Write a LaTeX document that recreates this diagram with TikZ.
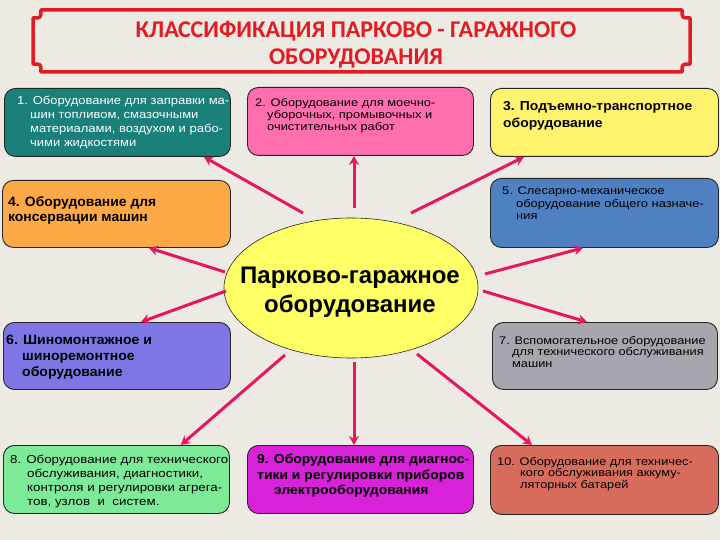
\documentclass[tikz,border=0pt]{standalone}
\usepackage{fontspec}
\setmainfont{Liberation Sans}
\newfontfamily\titlefont{Carlito}
\usetikzlibrary{shapes.geometric,arrows.meta,calc}
\definecolor{bgc}{HTML}{EDE9E3}
\definecolor{titlered}{HTML}{E31B23}
\definecolor{cteal}{HTML}{1A807A}
\definecolor{cpink}{HTML}{FF6FAE}
\definecolor{cyellow}{HTML}{FFF36E}
\definecolor{corange}{HTML}{FDA948}
\definecolor{cblue}{HTML}{4E80C2}
\definecolor{cell}{HTML}{FFFF66}
\definecolor{cpurple}{HTML}{7F76E6}
\definecolor{cgrey}{HTML}{A9A5AF}
\definecolor{cgreen}{HTML}{7DEA98}
\definecolor{cmag}{HTML}{D722D9}
\definecolor{csalmon}{HTML}{D86C5C}
\definecolor{arrc}{HTML}{E5175F}
\newcommand\bxfont[3]{\fontsize{#1}{#2}\selectfont\addfontfeature{FakeStretch=#3}}
\begin{document}
\begin{tikzpicture}[x=1pt,y=-1pt,
  box/.style={draw=black!85, line width=0.9pt, rounded corners=11pt, inner sep=0pt, anchor=north west},
  txt/.style={anchor=north west, align=left, inner sep=0pt},
  arr/.style={draw=arrc, line width=3pt, -{Stealth[length=9pt,width=10pt]}}]
\fill[bgc] (0,0) rectangle (720,540);
\useasboundingbox (0,0) rectangle (720,540);
% title frame
\draw[titlered, line width=3.5pt, line join=round]
  (41,10) -- (682,10) .. controls (682,18) .. (690,18) -- (690,64)
  .. controls (682,64) .. (682,72) -- (41,72) .. controls (41,64) .. (33,64)
  -- (33,18) .. controls (41,18) .. cycle;
\node[align=center, font=\titlefont\bfseries\fontsize{24}{27}\selectfont, text=titlered] (title) at (356,45)
  {КЛАССИФИКАЦИЯ ПАРКОВО - ГАРАЖНОГО\\ОБОРУДОВАНИЯ};
% boxes
\node[box, fill=cteal, minimum width=226, minimum height=68] (b1) at (4,88) {};
\node[box, fill=cpink, minimum width=226, minimum height=68] (b2) at (247,87) {};
\node[box, fill=cyellow, minimum width=228, minimum height=68] (b3) at (490,88) {};
\node[box, fill=corange, minimum width=228, minimum height=67] (b4) at (2,180) {};
\node[box, fill=cblue, minimum width=228, minimum height=69] (b5) at (490,178) {};
\node[box, fill=cpurple, minimum width=227, minimum height=67] (b6) at (3,322) {};
\node[box, fill=cgrey, minimum width=225, minimum height=67] (b7) at (492,322) {};
\node[box, fill=cgreen, minimum width=226, minimum height=68] (b8) at (3,445) {};
\node[box, fill=cmag, minimum width=226, minimum height=68] (b9) at (247,445) {};
\node[box, fill=csalmon, minimum width=228, minimum height=69] (b10) at (490,445) {};
% ellipse
\node[ellipse, draw=black!85, line width=0.6pt, fill=cell, minimum width=254, minimum height=140, inner sep=0pt] (ell) at (351,288) {};
\node[align=center, font=\bfseries\fontsize{24}{29}\selectfont] (elltxt) at (350,292) {Парково-гаражное\\оборудование};
% texts
\node[txt, text=white, font=\bxfont{11.5}{14}{1.13}] (t1) at (17,96)
  {1. Оборудование для заправки ма-\\\hspace*{13pt}шин топливом, смазочными\\\hspace*{13pt}материалами, воздухом и рабо-\\\hspace*{13pt}чими жидкостями};
\node[txt, font=\bxfont{11}{12}{1.17}] (t2) at (255,98)
  {2. Оборудование для моечно-\\\hspace*{12pt}уборочных, промывочных и\\\hspace*{12pt}очистительных работ};
\node[txt, font=\bfseries\bxfont{13}{17.5}{1.07}] (t3) at (503,101)
  {3. Подъемно-транспортное\\оборудование};
\node[txt, font=\bfseries\bxfont{13.5}{15.5}{1.03}] (t4) at (8,196)
  {4. Оборудование для\\консервации машин};
\node[txt, font=\bxfont{11}{12.5}{1.17}] (t5) at (502,187)
  {5. Слесарно-механическое\\\hspace*{14pt}оборудование общего назначе-\\\hspace*{14pt}ния};
\node[txt, font=\bfseries\bxfont{13.5}{16}{1.04}] (t6) at (6,335)
  {6. Шиномонтажное и\\\hspace*{16pt}шиноремонтное\\\hspace*{16pt}оборудование};
\node[txt, font=\bxfont{11}{11.6}{1.16}] (t7) at (499,336)
  {7. Вспомогательное оборудование\\\hspace*{13pt}для технического обслуживания\\\hspace*{13pt}машин};
\node[txt, font=\bxfont{11.5}{14}{1.16}] (t8) at (10,455)
  {8. Оборудование для технического\\\hspace*{17pt}обслуживания, диагностики,\\\hspace*{17pt}контроля и регулировки агрега-\\\hspace*{17pt}тов, узлов\ \ и\ \ систем.};
\node[txt, font=\bfseries\bxfont{13}{15.5}{1.07}] (t9) at (257,454)
  {9. Оборудование для диагнос-\\тики и регулировки приборов\\\hspace*{17pt}электрооборудования};
\node[txt, font=\bxfont{11}{11.6}{1.16}] (t10) at (497,457)
  {10. Оборудование для техничес-\\\hspace*{23pt}кого обслуживания аккуму-\\\hspace*{23pt}ляторных батарей};
% arrows
\coordinate (s1) at (303,213);
\coordinate (s2) at (354,208);
\coordinate (s3) at (411,213);
\coordinate (s4) at (225,272);
\coordinate (s5) at (485,274);
\coordinate (s6) at (226,291);
\coordinate (s7) at (483,291);
\coordinate (s8) at (285,355);
\coordinate (s9) at (354,362);
\coordinate (s10) at (417,354);
\draw[arr] (s1) -- ([xshift=-27pt]b1.south east);
\draw[arr] (s2) -- (s2 |- b2.south);
\draw[arr] (s3) -- ([xshift=34pt]b3.south west);
\draw[arr] (s4) -- ([xshift=-82pt]b4.south east);
\draw[arr] (s5) -- ([xshift=93pt]b5.south west);
\draw[arr] (s6) -- ([xshift=-90pt]b6.north east);
\draw[arr] (s7) -- ([xshift=95pt]b7.north west);
\draw[arr] (s8) -- ([xshift=-49pt]b8.north east);
\draw[arr] (s9) -- (s9 |- b9.north);
\draw[arr] (s10) -- ([xshift=42pt]b10.north west);
\end{tikzpicture}
\end{document}
